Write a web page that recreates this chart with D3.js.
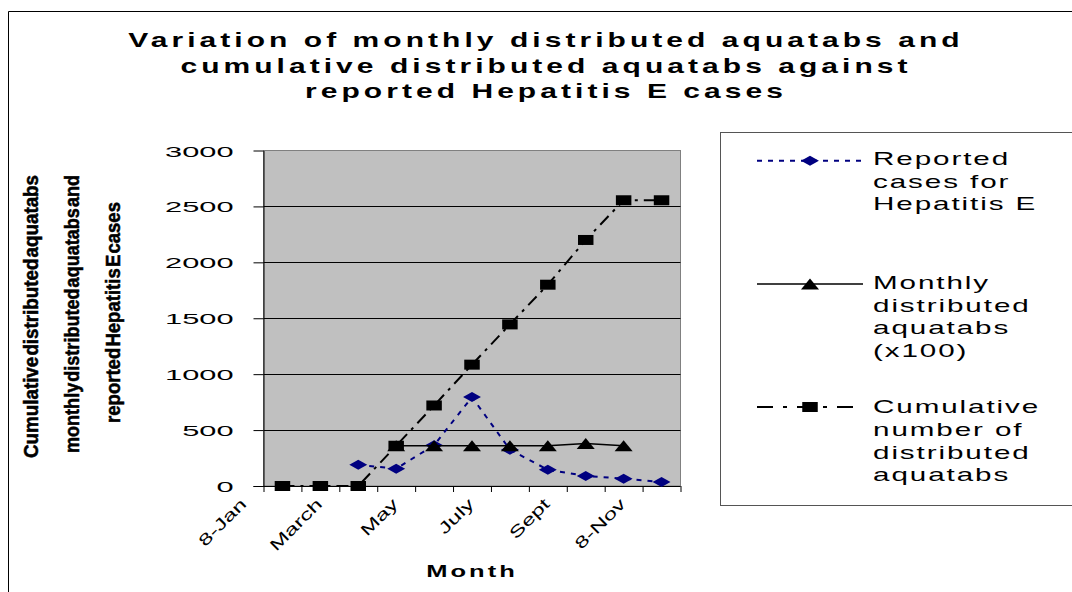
<!DOCTYPE html>
<html>
<head>
<meta charset="utf-8">
<script src="https://cdn.jsdelivr.net/npm/d3@7"></script>
<style>
  body { margin: 0; background: #fff; }
  svg { display: block; }
  text { font-family: "Liberation Sans", Arial, sans-serif; fill: #000; }
</style>
</head>
<body>
<div id="chart"></div>
<script>
// categories (only every other one gets a label, as in the original)
var months = ["8-Jan", "Feb", "March", "April", "May", "June", "July", "Aug", "Sept", "Oct", "8-Nov"];
var shownMonths = ["8-Jan", "March", "May", "July", "Sept", "8-Nov"];

// series values
var reportedCases = [null, null, 190, 155, 365, 795, 325, 145, 90, 65, 35];
var monthlyAquatabs = [null, null, null, 360, 360, 360, 360, 360, 380, 360, null];
var cumulativeAquatabs = [0, 0, 0, 360, 720, 1085, 1445, 1800, 2200, 2555, 2555];

var yTicks = [0, 500, 1000, 1500, 2000, 2500, 3000];

var titleLines = ["Variation of monthly distributed aquatabs and",
  "cumulative distributed aquatabs against",
  "reported Hepatitis E cases"];
var yTitleLines = ["Cumulative distributed aquatabs",
  "monthly distributed aquatabs and",
  "reported Hepatitis E cases"];
var legendLabels = [
  ["Reported", "cases  for", "Hepatitis  E"],
  ["Monthly", "distributed", "aquatabs", "(x100)"],
  ["Cumulative", "number  of", "distributed", "aquatabs"]
];

/*********************** Layout *********************/
var width = 1072, height = 592;
var plot = { left: 263.5, right: 680.5, top: 150.5, bottom: 486 };

var svg = d3.select("#chart").append("svg")
  .attr("width", width)
  .attr("height", height);

svg.append("rect").attr("width", width).attr("height", height).attr("fill", "#fff");

// chart area border (only top and left are inside the shot)
svg.append("path")
  .attr("d", "M8.5," + height + "V11.5H" + width)
  .attr("fill", "none")
  .attr("stroke", "#000")
  .attr("stroke-width", 1);

// scales
var xScale = d3.scaleBand().domain(months).range([plot.left, plot.right]);
var xEdge = d3.scaleLinear().domain([0, months.length]).range([plot.left, plot.right]);
var yScale = d3.scaleLinear().domain([0, 3000]).range([plot.bottom, plot.top]);
var cx = function(i) { return xScale(months[i]) + xScale.bandwidth() / 2; };

// plot area
svg.append("rect")
  .attr("x", plot.left).attr("y", plot.top)
  .attr("width", plot.right - plot.left).attr("height", plot.bottom - plot.top)
  .attr("fill", "#c0c0c0")
  .attr("stroke", "#808080")
  .attr("stroke-width", 1);

// gridlines
svg.append("g")
  .selectAll("line")
  .data(yTicks.filter(function(d) { return d > 0 && d < 3000; }))
  .enter().append("line")
  .attr("x1", plot.left).attr("x2", plot.right)
  .attr("y1", function(d) { return Math.round(yScale(d)) + 0.5; })
  .attr("y2", function(d) { return Math.round(yScale(d)) + 0.5; })
  .attr("stroke", "#000")
  .attr("stroke-width", 1);

// y axis
var yAxis = d3.axisLeft(yScale).tickValues(yTicks).tickSize(10).tickSizeOuter(0)
  .tickFormat(d3.format("d"));
var yAxisG = svg.append("g")
  .attr("class", "y axis")
  .attr("transform", "translate(" + plot.left + ",0)")
  .call(yAxis);
yAxisG.select(".domain").attr("stroke", "#000");
yAxisG.selectAll(".tick line").attr("stroke", "#000");
yAxisG.selectAll(".tick text")
  .attr("x", null).attr("dy", null)
  .attr("font-size", 15)
  .attr("text-anchor", "end")
  .attr("transform", "translate(-30,5.5) scale(2.05,1)");

// x axis: ticks on category edges, labels on every other category
var xTickAxis = d3.axisBottom(xEdge).tickValues(d3.range(months.length + 1))
  .tickSize(6).tickSizeOuter(0).tickFormat("");
var xTickG = svg.append("g")
  .attr("transform", "translate(0," + plot.bottom + ")")
  .call(xTickAxis);
xTickG.select(".domain").attr("d", "M" + (plot.left - 10) + ",0.5H" + plot.right).attr("stroke", "#000");
xTickG.selectAll(".tick line").attr("stroke", "#000");

var xLabelAxis = d3.axisBottom(xScale).tickSize(0)
  .tickValues(shownMonths);
var xLabelG = svg.append("g")
  .attr("transform", "translate(0," + plot.bottom + ")")
  .call(xLabelAxis);
xLabelG.select(".domain").remove();
xLabelG.selectAll(".tick text")
  .attr("y", null).attr("dy", null)
  .attr("font-size", 16)
  .attr("text-anchor", "end")
  .attr("transform", "translate(-35,19) rotate(-45) scale(1.5,1)");

/*********************** Series *********************/
var line = function(values) {
  return d3.line()
    .defined(function(d) { return d != null; })
    .x(function(d, i) { return cx(i); })
    .y(function(d) { return yScale(d); })(values);
};

var series = [
  { values: reportedCases, color: "#000080", width: 2, dash: "5,6", marker: "diamond" },
  { values: monthlyAquatabs, color: "#000", width: 1.3, dash: null, marker: "triangle" },
  { values: cumulativeAquatabs, color: "#000", width: 2, dash: "12,6,3,6", marker: "square" }
];

function markerPath(kind) {
  if (kind === "diamond") return d3.symbol(d3.symbolDiamond, 28.9)();
  if (kind === "triangle") return d3.symbol(d3.symbolTriangle, 70)();
  return d3.symbol(d3.symbolSquare, 100)();
}
function markerTransform(kind, x, y) {
  if (kind === "diamond") return "translate(" + x + "," + y + ") scale(3.1,1)";
  if (kind === "triangle") return "translate(" + x + "," + (y + 1.8) + ") scale(1.42,1)";
  return "translate(" + x + "," + y + ") scale(1.55,1)";
}

series.forEach(function(s) {
  var g = svg.append("g");
  g.append("path")
    .attr("d", line(s.values))
    .attr("fill", "none")
    .attr("stroke", s.color)
    .attr("stroke-width", s.width)
    .attr("stroke-dasharray", s.dash);
  g.selectAll("path.mark")
    .data(s.values.map(function(v, i) { return { v: v, i: i }; })
      .filter(function(d) { return d.v != null; }))
    .enter().append("path")
    .attr("class", "mark")
    .attr("d", markerPath(s.marker))
    .attr("transform", function(d) { return markerTransform(s.marker, cx(d.i), yScale(d.v)); })
    .attr("fill", s.color);
});

/*********************** Titles *********************/
svg.append("g").selectAll("text")
  .data(titleLines)
  .enter().append("text")
  .attr("transform", function(d, i) { return "translate(546," + (46.7 + i * 25.8) + ") scale(1.5,1)"; })
  .attr("text-anchor", "middle")
  .attr("font-size", 20)
  .attr("font-weight", "bold")
  .attr("letter-spacing", 2.7)
  .text(function(d) { return d; });

// squeezed, heavy y-axis title as in the original
var yTitlePos = [{ x: 37.5, y: 316.5, len: 283 }, { x: 79, y: 314, len: 278 }, { x: 120, y: 312.5, len: 221 }];
svg.append("g").selectAll("text")
  .data(yTitleLines)
  .enter().append("text")
  .attr("transform", function(d, i) {
    return "translate(" + yTitlePos[i].x + "," + yTitlePos[i].y + ") rotate(-90) scale(1,0.85)";
  })
  .attr("text-anchor", "middle")
  .attr("font-size", 23)
  .attr("font-weight", "bold")
  .attr("word-spacing", -5)
  .attr("stroke", "#000")
  .attr("stroke-width", 0.6)
  .attr("textLength", function(d, i) { return yTitlePos[i].len; })
  .attr("lengthAdjust", "spacingAndGlyphs")
  .text(function(d) { return d; });

svg.append("text")
  .attr("transform", "translate(472,577) scale(1.5,1)")
  .attr("text-anchor", "middle")
  .attr("font-size", 17)
  .attr("font-weight", "bold")
  .attr("letter-spacing", 2)
  .text("Month");

/*********************** Legend *********************/
var legend = svg.append("g");
legend.append("rect")
  .attr("x", 720.5).attr("y", 132.5)
  .attr("width", 400).attr("height", 373)
  .attr("fill", "#fff")
  .attr("stroke", "#555")
  .attr("stroke-width", 1);

var legendRows = [160.7, 284, 407];
var legendBase = [165, 289, 413.3];
series.forEach(function(s, k) {
  var y = legendRows[k];
  legend.append("line")
    .attr("x1", 757).attr("x2", 863)
    .attr("y1", y).attr("y2", y)
    .attr("stroke", s.color)
    .attr("stroke-width", s.width)
    .attr("stroke-dasharray", s.dash === "12,6,3,6" ? "16,10,4,10" : s.dash);
  legend.append("path")
    .attr("d", markerPath(s.marker))
    .attr("transform", markerTransform(s.marker, 810, y))
    .attr("fill", s.color);
  legend.append("g").selectAll("text")
    .data(legendLabels[k])
    .enter().append("text")
    .attr("transform", function(d, j) { return "translate(873," + (legendBase[k] + j * 22.7) + ") scale(1.6,1)"; })
    .attr("font-size", 18.5)
    .attr("letter-spacing", 1.2)
    .text(function(d) { return d; });
});
</script>
</body>
</html>
